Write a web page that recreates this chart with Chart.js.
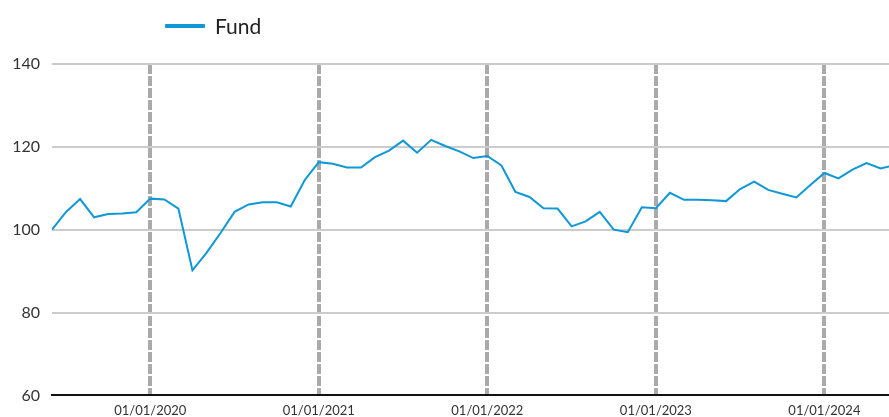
<!DOCTYPE html>
<html>
<head>
<meta charset="utf-8">
<script src="https://cdn.jsdelivr.net/npm/chart.js@4/dist/chart.umd.min.js"></script>
<style>
    html, body { margin: 0; padding: 0; background: #fff; }
    #wrap { position: relative; width: 889px; height: 417px; }
    #legend {
        position: absolute; left: 165px; top: 13px;
        font-family: Lato, "Noto Sans", sans-serif; font-size: 21px; color: #222;
        display: flex; align-items: center;
    }
    #legend .swatch { width: 40px; height: 4px; background: #0e98d8; margin-right: 10px; border-radius: 1px; }
</style>
</head>
<body>
<div id="wrap">
    <canvas id="chart" width="889" height="417"></canvas>
    <div id="legend"><span class="swatch"></span><span>Fund</span></div>
</div>
<script>
// Monthly index values, June 2019 .. June 2024
const fundValues = [
    100.0, 104.3, 107.4, 103.0, 103.8, 103.9, 104.2,
    107.5, 107.3, 105.1, 90.2, 94.4, 99.2, 104.3, 106.1, 106.6, 106.6, 105.6, 112.0,
    116.3, 115.9, 115.0, 115.0, 117.5, 119.1, 121.5, 118.6, 121.7, 120.2, 118.9, 117.3,
    117.8, 115.5, 109.1, 107.9, 105.2, 105.1, 100.8, 102.0, 104.3, 100.0, 99.4, 105.4,
    105.2, 108.9, 107.2, 107.2, 107.1, 106.9, 109.8, 111.6, 109.6, 108.7, 107.8, 110.8,
    113.7, 112.4, 114.5, 116.1, 114.8, 115.6
];
// year boundaries (month index from start) and their labels
const yearTickIndex = [7, 19, 31, 43, 55];
const yearTickLabels = ['01/01/2020', '01/01/2021', '01/01/2022', '01/01/2023', '01/01/2024'];
const yTicks = [60, 80, 100, 120, 140];

const points = fundValues.map((v, i) => ({ x: i, y: v }));

new Chart(document.getElementById('chart'), {
    type: 'line',
    data: {
        datasets: [{
            label: 'Fund',
            data: points,
            borderColor: '#0e98d8',
            borderWidth: 2,
            pointRadius: 0,
            tension: 0
        }]
    },
    options: {
        responsive: false,
        animation: false,
        layout: { padding: { top: 64, right: 0, bottom: 0, left: 0 } },
        plugins: { legend: { display: false }, tooltip: { enabled: false } },
        scales: {
            x: {
                type: 'linear',
                min: 0,
                max: 59.6,
                afterBuildTicks: s => { s.ticks = yearTickIndex.map(v => ({ value: v })); },
                afterFit: s => { s.height = 21; },
                ticks: {
                    autoSkip: false,
                    maxRotation: 0,
                    padding: 8,
                    color: '#333',
                    font: { family: 'Lato, "Noto Sans", sans-serif', size: 13 },
                    callback: v => yearTickLabels[yearTickIndex.indexOf(v)]
                },
                grid: { color: '#aaaaaa', lineWidth: 4, drawTicks: false },
                border: { display: true, color: '#111', width: 2, dash: [10, 2] }
            },
            y: {
                min: 60,
                max: 140,
                afterBuildTicks: s => { s.ticks = yTicks.map(v => ({ value: v })); },
                afterFit: s => { s.width = 52; },
                ticks: {
                    padding: 12,
                    color: '#333',
                    font: { family: 'Lato, "Noto Sans", sans-serif', size: 16 }
                },
                grid: { color: '#cccccc', lineWidth: 2, drawTicks: false },
                border: { display: false }
            }
        }
    }
});
</script>
</body>
</html>
